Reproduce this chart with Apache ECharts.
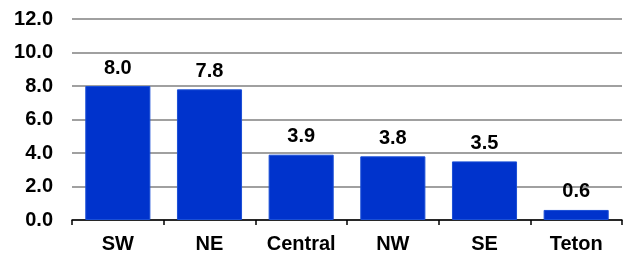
<!DOCTYPE html>
<html>
<head>
<meta charset="utf-8">
<script src="https://cdn.jsdelivr.net/npm/echarts@6/dist/echarts.min.js"></script>
<style>
  html, body { margin: 0; padding: 0; background: #fff; }
  #main { width: 624px; height: 258px; }
</style>
</head>
<body>
<div id="main"></div>
<script>
var regions = ['SW', 'NE', 'Central', 'NW', 'SE', 'Teton'];
var values = [8.0, 7.8, 3.9, 3.8, 3.5, 0.6];

var chart = echarts.init(document.getElementById('main'));
chart.setOption({
  animation: false,
  grid: { left: 72, right: 2, top: 19, bottom: 38, containLabel: false },
  xAxis: {
    type: 'category',
    data: regions,
    axisLine: { lineStyle: { color: '#000', width: 1.5 } },
    axisTick: { show: true, length: 5, alignWithLabel: false, lineStyle: { color: '#000', width: 1.5 } },
    axisLabel: { color: '#000', fontFamily: 'Liberation Sans, Arial', fontWeight: 'bold', fontSize: 20, margin: 14 }
  },
  yAxis: {
    type: 'value',
    min: 0, max: 12, interval: 2,
    axisLine: { show: false },
    axisTick: { show: false },
    splitLine: { lineStyle: { color: '#808080', width: 1.5 } },
    axisLabel: {
      color: '#000', fontFamily: 'Liberation Sans, Arial', fontWeight: 'bold', fontSize: 20, margin: 19,
      formatter: function (v) { return v.toFixed(1); }
    }
  },
  series: [{
    type: 'bar',
    data: values,
    barCategoryGap: '29%',
    itemStyle: { color: '#0033CC', borderColor: '#1a4fd6', borderWidth: 1 },
    label: {
      show: true, position: 'top', distance: 8,
      color: '#000', fontFamily: 'Liberation Sans, Arial', fontWeight: 'bold', fontSize: 20,
      formatter: function (p) { return p.value.toFixed(1); }
    }
  }]
});
</script>
</body>
</html>
